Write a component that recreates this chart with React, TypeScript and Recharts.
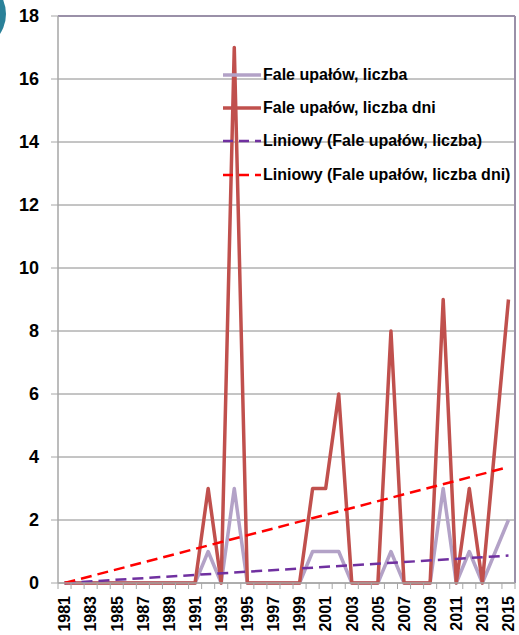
import React from 'react';
import { LineChart, Line, XAxis, YAxis, CartesianGrid, ReferenceLine } from 'recharts';

const years = [
  1981, 1982, 1983, 1984, 1985, 1986, 1987, 1988, 1989, 1990, 1991, 1992, 1993, 1994, 1995, 1996, 1997, 1998,
  1999, 2000, 2001, 2002, 2003, 2004, 2005, 2006, 2007, 2008, 2009, 2010, 2011, 2012, 2013, 2014, 2015,
];
const waveCount = [0, 0, 0, 0, 0, 0, 0, 0, 0, 0, 0, 1, 0, 3, 0, 0, 0, 0, 0, 1, 1, 1, 0, 0, 0, 1, 0, 0, 0, 3, 0, 1, 0, 1, 2];
const waveDays = [0, 0, 0, 0, 0, 0, 0, 0, 0, 0, 0, 3, 0, 17, 0, 0, 0, 0, 0, 3, 3, 6, 0, 0, 0, 8, 0, 0, 0, 9, 0, 3, 0, 4.5, 9];
// trend line ends (1981, 2015)
const trendYears = [1981, 2015];
const trendCount = [0, 0.87];
const trendDays = [0, 3.68];
const yTicks = [0, 2, 4, 6, 8, 10, 12, 14, 16, 18];

const legendItems = [
  { label: 'Fale upałów, liczba', color: '#b3a2c7', dash: undefined, width: 3.5 },
  { label: 'Fale upałów, liczba dni', color: '#c0504d', dash: undefined, width: 3.5 },
  { label: 'Liniowy (Fale upałów, liczba)', color: '#7030a0', dash: '10 6', width: 2.5 },
  { label: 'Liniowy (Fale upałów, liczba dni)', color: '#ff0000', dash: '10 6', width: 2.5 },
];

const data = years.map((year, i) => ({ year, count: waveCount[i], days: waveDays[i] }));
const countTrend = trendYears.map((year, i) => ({ year, trend: trendCount[i] }));
const daysTrend = trendYears.map((year, i) => ({ year, trend: trendDays[i] }));

const FONT = '"Liberation Sans", Arial, sans-serif';
const AXIS = '#a6a6a6';
const BORDER = '#9a90a8';
const STEP = 457 / years.length;

const YearTick = (props: any) => {
  const { x, y, payload, index } = props;
  const year = payload.value;
  const last = index === years.length - 1;
  return (
    <g>
      <line x1={x - STEP / 2} x2={x - STEP / 2} y1={y} y2={y + 6} stroke={AXIS} strokeWidth={1} />
      {last && <line x1={x + STEP / 2} x2={x + STEP / 2} y1={y} y2={y + 6} stroke={AXIS} strokeWidth={1} />}
      {year % 2 === 1 && (
        <text
          x={x}
          y={y + 13}
          dy="0.36em"
          textAnchor="end"
          transform={`rotate(-90, ${x}, ${y + 13})`}
          fontSize={16}
          fontWeight="bold"
          fontFamily={FONT}
          fill="#000"
        >
          {year}
        </text>
      )}
    </g>
  );
};

const Legend = () => (
  <div style={{ position: 'absolute', left: 223, top: 58, fontFamily: FONT, fontWeight: 'bold', fontSize: 16 }}>
    {legendItems.map(item => (
      <div key={item.label} style={{ display: 'flex', alignItems: 'center', height: 33.3 }}>
        <svg width={38} height={10} style={{ marginRight: 2 }}>
          <line x1={0} x2={38} y1={5} y2={5} stroke={item.color} strokeWidth={item.width} strokeDasharray={item.dash} />
        </svg>
        <span style={{ color: '#000', whiteSpace: 'nowrap' }}>{item.label}</span>
      </div>
    ))}
  </div>
);

export default function App() {
  return (
    <div style={{ position: 'absolute', left: 0, top: 0, width: 519, height: 635, overflow: 'hidden', background: '#fff' }}>
      <div
        style={{ position: 'absolute', left: -66, top: -22, width: 72, height: 72, borderRadius: '50%', background: '#2a8199' }}
      />
      <LineChart width={519} height={635} data={data} margin={{ top: 16, right: 4, left: 0, bottom: 0 }}>
        <CartesianGrid horizontal vertical={false} stroke="#8a8a8a" />
        <XAxis
          dataKey="year"
          type="number"
          domain={[1980.5, 2015.5]}
          ticks={years}
          interval={0}
          height={52}
          tickSize={0}
          tickMargin={0}
          tickLine={false}
          axisLine={{ stroke: AXIS, strokeWidth: 1.5 }}
          tick={<YearTick />}
          allowDataOverflow
        />
        <YAxis
          width={58}
          domain={[0, 18]}
          ticks={yTicks}
          interval={0}
          tickSize={7}
          tickMargin={12}
          axisLine={{ stroke: AXIS, strokeWidth: 1.5 }}
          tickLine={{ stroke: AXIS }}
          tick={{ fill: '#000', fontSize: 18, fontWeight: 'bold', fontFamily: FONT }}
        />
        <ReferenceLine y={18} stroke={BORDER} strokeWidth={2} />
        <ReferenceLine x={2015.5} stroke={BORDER} strokeWidth={2} />
        <Line
          dataKey="count"
          stroke="#b3a2c7"
          strokeWidth={3.5}
          dot={false}
          strokeLinejoin="round"
          isAnimationActive={false}
        />
        <Line
          dataKey="days"
          stroke="#c0504d"
          strokeWidth={3.5}
          dot={false}
          strokeLinejoin="round"
          isAnimationActive={false}
        />
        <Line
          data={countTrend}
          dataKey="trend"
          stroke="#7030a0"
          strokeWidth={2.5}
          strokeDasharray="11 6"
          dot={false}
          isAnimationActive={false}
        />
        <Line
          data={daysTrend}
          dataKey="trend"
          stroke="#ff0000"
          strokeWidth={2.5}
          strokeDasharray="11 6"
          dot={false}
          isAnimationActive={false}
        />
      </LineChart>
      <Legend />
    </div>
  );
}
